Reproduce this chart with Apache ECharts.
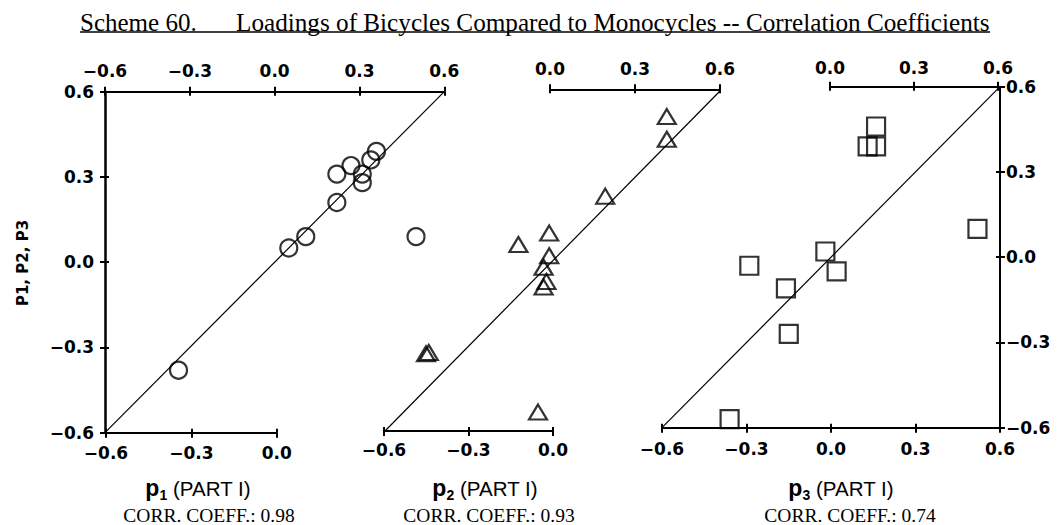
<!DOCTYPE html>
<html>
<head>
<meta charset="utf-8">
<script src="https://cdn.jsdelivr.net/npm/echarts@6/dist/echarts.min.js"></script>
<style>
  html, body { margin: 0; padding: 0; background: #fff; }
  #chart { width: 1058px; height: 525px; }
</style>
</head>
<body>
<div id="chart"></div>
<script>
// Loadings (bicycles vs monocycles) for the three components
const p1Points = [
  [0.36, 0.39], [0.34, 0.36], [0.27, 0.34], [0.22, 0.31], [0.31, 0.31],
  [0.31, 0.28], [0.22, 0.21], [0.11, 0.09], [0.05, 0.05], [0.50, 0.09],
  [-0.34, -0.38]
];
const p2Points = [
  [0.41, 0.51], [0.41, 0.43], [0.19, 0.23], [-0.01, 0.10], [-0.12, 0.06],
  [-0.01, 0.02], [-0.03, -0.02], [-0.02, -0.07], [-0.03, -0.09],
  [-0.44, -0.32], [-0.45, -0.325], [-0.05, -0.53]
];
const p3Points = [
  [0.16, 0.46], [0.13, 0.39], [0.16, 0.39], [0.52, 0.10], [-0.02, 0.02],
  [0.02, -0.05], [-0.29, -0.03], [-0.16, -0.11], [-0.15, -0.27], [-0.36, -0.57]
];
// y = x reference line
const identityLine = [[-0.6, -0.6], [0.6, 0.6]];

const componentNames = ['1', '2', '3'];
const corrCoefficients = ['0.98', '0.93', '0.74'];
const titleLead = 'Scheme 60.';
const titleMain = 'Loadings of Bicycles Compared to Monocycles -- Correlation Coefficients';
const yAxisTitle = 'P1, P2, P3';
const axisMin = -0.6, axisMax = 0.6, axisStep = 0.3;

const tickFont = { fontFamily: 'DejaVu Sans', fontWeight: 'bold', fontSize: 17, color: '#000' };
const fmt = v => (v < -1e-9 ? '\u2212' : '') + Math.abs(v).toFixed(1);

function labelAxis(gridIndex, position, min, max, margin, lineW) {
  return {
    type: 'value', gridIndex, position, min, max, interval: axisStep,
    axisLine: { show: true, onZero: false, lineStyle: { color: '#000', width: lineW || 2 } },
    axisTick: { show: true, inside: false, length: 5, lineStyle: { color: '#000', width: 2 } },
    axisLabel: Object.assign({ show: true, margin, formatter: fmt }, tickFont),
    splitLine: { show: false }
  };
}
// companion axis carrying the inner half of each tick mark
function tickTwin(gridIndex, position, min, max) {
  return {
    type: 'value', gridIndex, position, min, max, interval: axisStep,
    axisLine: { show: false, onZero: false },
    axisTick: { show: true, inside: true, length: 4, lineStyle: { color: '#000', width: 2 } },
    axisLabel: { show: false },
    splitLine: { show: false }
  };
}
function hiddenAxis(gridIndex, min, max) {
  return { type: 'value', gridIndex, min, max, show: false,
    axisLine: { onZero: false }, splitLine: { show: false } };
}

const grids = [
  { left: 105, top: 91.7, width: 339.3, height: 341 },   // 0 panel 1
  { left: 106, top: 91.7, width: 170.7, height: 341 },   // 1 panel 1 lower scale
  { left: 384, top: 91, width: 336, height: 341 },       // 2 panel 2
  { left: 550, top: 89.3, width: 170, height: 341 },     // 3 panel 2 upper scale
  { left: 384, top: 90, width: 169, height: 341 },       // 4 panel 2 lower scale
  { left: 662, top: 86.7, width: 338, height: 341 },     // 5 panel 3
  { left: 830, top: 86.7, width: 168, height: 341 }      // 6 panel 3 upper scale
];

const xAxes = [
  labelAxis(0, 'top', axisMin, axisMax, 12),     // 0
  tickTwin(0, 'top', axisMin, axisMax),          // 1
  labelAxis(1, 'bottom', axisMin, 0, 11.5),      // 2
  tickTwin(1, 'bottom', axisMin, 0),             // 3
  hiddenAxis(2, axisMin, axisMax),               // 4
  labelAxis(3, 'top', 0, axisMax, 11.5),         // 5
  tickTwin(3, 'top', 0, axisMax),                // 6
  labelAxis(4, 'bottom', axisMin, 0, 10),        // 7
  tickTwin(4, 'bottom', axisMin, 0),             // 8
  labelAxis(5, 'bottom', axisMin, axisMax, 12.5),// 9
  tickTwin(5, 'bottom', axisMin, axisMax),       // 10
  labelAxis(6, 'top', 0, axisMax, 10.5),         // 11
  tickTwin(6, 'top', 0, axisMax)                 // 12
];
const yAxes = [
  labelAxis(0, 'left', axisMin, axisMax, 11, 2.5), // 0
  tickTwin(0, 'left', axisMin, axisMax),           // 1
  hiddenAxis(1, axisMin, axisMax),                 // 2
  hiddenAxis(2, axisMin, axisMax),                 // 3
  hiddenAxis(3, axisMin, axisMax),                 // 4
  hiddenAxis(4, axisMin, axisMax),                 // 5
  labelAxis(5, 'right', axisMin, axisMax, 6),      // 6
  tickTwin(5, 'right', axisMin, axisMax),          // 7
  hiddenAxis(6, axisMin, axisMax)                  // 8
];

const markStyle = { color: 'rgba(0,0,0,0)', borderColor: '#000', borderWidth: 2.2 };
function scatter(data, xi, yi, symbol, size) {
  return { type: 'scatter', xAxisIndex: xi, yAxisIndex: yi, data, symbol, symbolSize: size,
    itemStyle: markStyle, silent: true, z: 3 };
}
function diagonal(xi, yi) {
  return { type: 'line', xAxisIndex: xi, yAxisIndex: yi, data: identityLine, symbol: 'none',
    lineStyle: { color: '#000', width: 1.2 }, silent: true, z: 2 };
}

const panelCenters = [198, 485, 841];
const corrCenters = [209, 489, 850];
const graphics = [
  { type: 'text', x: 80, y: 22.3, style: { text: titleLead, fill: '#000',
      font: '25px "Liberation Serif"', align: 'left', verticalAlign: 'middle' } },
  { type: 'text', x: 236, y: 22.3, style: { text: titleMain, fill: '#000',
      font: '25.2px "Liberation Serif"', align: 'left', verticalAlign: 'middle' } },
  { type: 'line', shape: { x1: 80, y1: 32, x2: 990, y2: 32 }, style: { stroke: '#000', lineWidth: 1.5 } },
  { type: 'text', x: 23, y: 263, rotation: Math.PI / 2, style: { text: yAxisTitle, fill: '#000',
      font: 'bold 15px "DejaVu Sans"', align: 'center', verticalAlign: 'middle' } }
];
componentNames.forEach((n, i) => {
  graphics.push({ type: 'text', x: panelCenters[i], y: 488, style: {
    text: '{p|p}{s|' + n + '}{n| (PART I)}', align: 'center', verticalAlign: 'middle',
    rich: {
      p: { fontFamily: 'Liberation Sans', fontWeight: 'bold', fontSize: 23, lineHeight: 28, fill: '#000' },
      s: { fontFamily: 'Liberation Sans', fontWeight: 'bold', fontSize: 14, lineHeight: 13, verticalAlign: 'bottom', fill: '#000' },
      n: { fontFamily: 'Liberation Sans', fontSize: 20.5, lineHeight: 28, fill: '#000' }
    } } });
  graphics.push({ type: 'text', x: corrCenters[i], y: 515, style: {
    text: 'CORR. COEFF.: ' + corrCoefficients[i], fill: '#000',
    font: '19.5px "Liberation Serif"', align: 'center', verticalAlign: 'middle' } });
});

const chart = echarts.init(document.getElementById('chart'), null, { renderer: 'svg' });
chart.setOption({
  backgroundColor: '#fff',
  animation: false,
  grid: grids,
  xAxis: xAxes,
  yAxis: yAxes,
  graphic: graphics,
  series: [
    diagonal(0, 0),
    scatter(p1Points, 0, 0, 'circle', 17),
    diagonal(4, 3),
    scatter(p2Points, 4, 3, 'triangle', [18, 15]),
    diagonal(9, 6),
    scatter(p3Points, 9, 6, 'rect', 18)
  ]
});
</script>
</body>
</html>
